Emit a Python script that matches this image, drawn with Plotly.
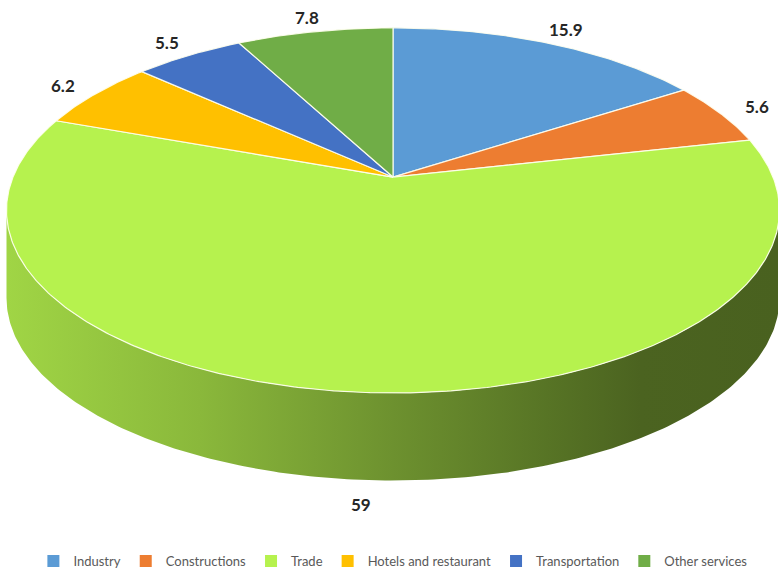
import numpy as np
import plotly.graph_objects as go

# Share of each sector (percent)
categories = ["Industry", "Constructions", "Trade", "Hotels and restaurant",
              "Transportation", "Other services"]
values = [15.9, 5.6, 59, 6.2, 5.5, 7.8]
value_labels = ["15.9", "5.6", "59", "6.2", "5.5", "7.8"]
colors = ["#5B9BD5", "#ED7D31", "#B6F24E", "#FFC000", "#4472C4", "#70AD47"]

W, H = 778, 576

# Perspective view of a tilted disc (pixel units of the plot area)
CX, CY = 393.0, 178.0     # projected centre of the top face
SX, SY = 380.0, 177.4     # horizontal / depth scale
PERSP = 0.1826            # perspective strength
DEPTH = 88.0              # visible thickness of the disc


def project(phi_deg, r=1.0, drop=0.0):
    """Angle measured clockwise from 12 o'clock -> screen position."""
    phi = np.radians(phi_deg)
    x3 = r * np.sin(phi)
    z3 = r * np.cos(phi)
    d = 1.0 + PERSP * z3
    return CX + SX * x3 / d, CY - SY * z3 / d + drop


def hex_to_rgb(h):
    h = h.lstrip("#")
    return [int(h[i:i + 2], 16) for i in (0, 2, 4)]


def shade(h, f):
    r, g, b = (min(255, int(round(c * f))) for c in hex_to_rgb(h))
    return f"rgb({r},{g},{b})"


total = float(sum(values))
bounds = np.concatenate([[0.0], np.cumsum(values)]) / total * 360.0

# front arc of the rim that faces the viewer (between the silhouette tangents)
phi_left = np.degrees(np.arccos(-PERSP))
phi_right = 360.0 - phi_left

fig = go.Figure()

# side walls
side_steps = [(0.0, 0.88), (0.25, 0.76), (0.5, 0.60), (0.7, 0.48), (0.82, 0.41), (1.0, 0.40)]
for i, (a0, a1) in enumerate(zip(bounds[:-1], bounds[1:])):
    s0, s1 = max(a0, phi_left), min(a1, phi_right)
    if s1 <= s0:
        continue
    ang = np.linspace(s0, s1, 240)
    xt, yt = project(ang)
    xb, yb = project(ang[::-1], drop=DEPTH)
    xs = np.concatenate([xt, xb, xt[:1]])
    ys = np.concatenate([yt, yb, yt[:1]])
    fig.add_trace(go.Scatter(
        x=xs, y=ys, mode="lines", fill="toself",
        line=dict(width=0, color="rgba(0,0,0,0)"),
        fillgradient=dict(type="horizontal",
                          colorscale=[[p, shade(colors[i], f)] for p, f in side_steps]),
        hoverinfo="skip", showlegend=False))

# top faces of the slices
for i, (a0, a1) in enumerate(zip(bounds[:-1], bounds[1:])):
    ang = np.linspace(a0, a1, max(8, int((a1 - a0) * 2)))
    xr, yr = project(ang)
    xs = np.concatenate([[CX], xr, [CX]])
    ys = np.concatenate([[CY], yr, [CY]])
    fig.add_trace(go.Scatter(
        x=xs, y=ys, mode="lines", fill="toself", fillcolor=colors[i],
        line=dict(color="rgba(255,255,240,0.9)", width=1.2),
        name=categories[i], hoverinfo="name", showlegend=False))

# value labels just outside each slice
for i, (a0, a1) in enumerate(zip(bounds[:-1], bounds[1:])):
    mid = 0.5 * (a0 + a1)
    if np.cos(np.radians(mid)) < 0:
        lx, ly = project(mid, r=1.09, drop=DEPTH)
    else:
        lx, ly = project(mid, r=1.12)
    fig.add_annotation(x=float(lx), y=float(ly), text=f"<b>{value_labels[i]}</b>",
                       showarrow=False, xanchor="center", yanchor="middle",
                       font=dict(family="Lato, Open Sans, sans-serif", size=17,
                                 color="#262626"))

# legend entries
for name, col in zip(categories, colors):
    fig.add_trace(go.Scatter(
        x=[None], y=[None], mode="markers", name=name,
        marker=dict(symbol="square", size=7, color=col)))

fig.update_layout(
    width=W, height=H, autosize=False,
    margin=dict(l=0, r=0, t=0, b=0),
    paper_bgcolor="white", plot_bgcolor="white",
    xaxis=dict(range=[0, W], visible=False, fixedrange=True),
    yaxis=dict(range=[H, 0], visible=False, fixedrange=True),
    showlegend=True,
    legend=dict(orientation="h", x=0.505, xanchor="center",
                y=1 - 564 / H, yanchor="middle",
                font=dict(family="Lato, Open Sans, sans-serif", size=13, color="#595959"),
                itemsizing="constant", bgcolor="rgba(0,0,0,0)"),
)

fig.write_html("out.html")
